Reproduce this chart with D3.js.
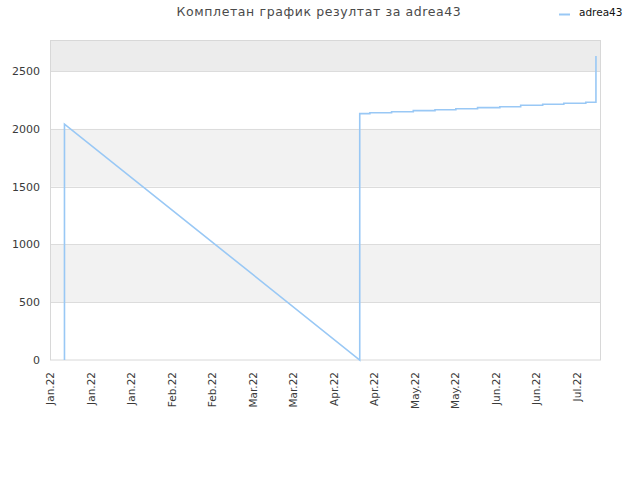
<!DOCTYPE html>
<html>
<head>
<meta charset="utf-8">
<script src="https://cdn.jsdelivr.net/npm/d3@7"></script>
<style>
  body { margin: 0; background: #fff; }
  svg { font-family: "DejaVu Sans", sans-serif; }
</style>
</head>
<body>
<svg id="chart" width="640" height="480"></svg>
<script>
// chart values
const title = 'Комплетан график резултат за adrea43';
const seriesName = 'adrea43';
const startDate = new Date(2022, 0, 1);
const endDay = 190;                          // domain length in days
const tickDays = [0, 14, 28, 42, 56, 70, 84, 98, 112, 126, 140, 154, 168, 182];
const yTicks = [0, 500, 1000, 1500, 2000, 2500];
const yMax = 2765;

// day offsets from startDate and points for the line
const pointDays = [5, 5, 107, 107, 110.5, 110.5, 118, 118, 125.5, 125.5, 133, 133, 140.2, 140.2,
                   147.7, 147.7, 155.4, 155.4, 162.6, 162.6, 170.2, 170.2, 177.5, 177.5,
                   185.1, 185.1, 188.6, 188.6];
const pointValues = [0, 2042, 0, 2132, 2132, 2140, 2140, 2149, 2149, 2158, 2158, 2166, 2166, 2175,
                     2175, 2184, 2184, 2192, 2192, 2204, 2204, 2213, 2213, 2222, 2222, 2230,
                     2230, 2630];

const dayToDate = d => new Date(startDate.getTime() + d * 864e5);

const svg = d3.select('#chart');
const mLeft = 50, mRight = 600, mTop = 40.5, mBottom = 360;

const x = d3.scaleTime().domain([startDate, dayToDate(endDay)]).range([mLeft, mRight]);
const y = d3.scaleLinear().domain([0, yMax]).range([mBottom, mTop]);

// alternating bands
const bands = [[500, 1000, '#f2f2f2'], [1500, 2000, '#f2f2f2'], [2500, yMax, '#ececec']];
svg.selectAll('rect.band')
    .data(bands)
    .enter()
    .append('rect')
    .attr('x', mLeft)
    .attr('width', mRight - mLeft)
    .attr('y', d => y(d[1]))
    .attr('height', d => y(d[0]) - y(d[1]))
    .attr('fill', d => d[2]);

// grid lines
svg.selectAll('line.grid')
    .data(yTicks.slice(1))
    .enter()
    .append('line')
    .attr('x1', mLeft).attr('x2', mRight)
    .attr('y1', d => Math.round(y(d)) + 0.5)
    .attr('y2', d => Math.round(y(d)) + 0.5)
    .attr('stroke', '#dcdcdc');

// plot frame
svg.append('rect')
    .attr('x', mLeft + 0.5).attr('y', mTop)
    .attr('width', mRight - mLeft).attr('height', mBottom - mTop)
    .attr('fill', 'none')
    .attr('stroke', '#d8d8d8');

// y labels
svg.selectAll('text.ylab')
    .data(yTicks)
    .enter()
    .append('text')
    .attr('x', 40)
    .attr('y', d => y(d) + 4)
    .attr('text-anchor', 'end')
    .attr('font-size', 11)
    .attr('fill', '#3a3a3a')
    .text(d => d);

// x labels, rotated
const fmt = d3.timeFormat('%b.%y');
svg.selectAll('text.xlab')
    .data(tickDays.map(dayToDate))
    .enter()
    .append('text')
    .attr('transform', d => `translate(${x(d) + 4},372) rotate(-90)`)
    .attr('text-anchor', 'end')
    .attr('font-size', 10.5)
    .attr('fill', '#3a3a3a')
    .text(d => fmt(d));

// the line
const pts = pointDays.map((d, i) => [dayToDate(d), pointValues[i]]);
const line = d3.line().x(d => x(d[0])).y(d => y(d[1]));
svg.append('path')
    .datum(pts)
    .attr('d', line)
    .attr('fill', 'none')
    .attr('stroke', '#99c8f5')
    .attr('stroke-width', 1.6);

// title
svg.append('text')
    .attr('x', 319).attr('y', 16)
    .attr('text-anchor', 'middle')
    .attr('font-size', 12.5)
    .attr('fill', '#4a4a4a')
    .attr('letter-spacing', 0.6)
    .text(title);

// legend
svg.append('line')
    .attr('x1', 559).attr('x2', 570)
    .attr('y1', 14.5).attr('y2', 14.5)
    .attr('stroke', '#99c8f5').attr('stroke-width', 2);
svg.append('text')
    .attr('x', 579).attr('y', 16)
    .attr('font-size', 10.5)
    .attr('fill', '#111')
    .text(seriesName);
</script>
</body>
</html>
